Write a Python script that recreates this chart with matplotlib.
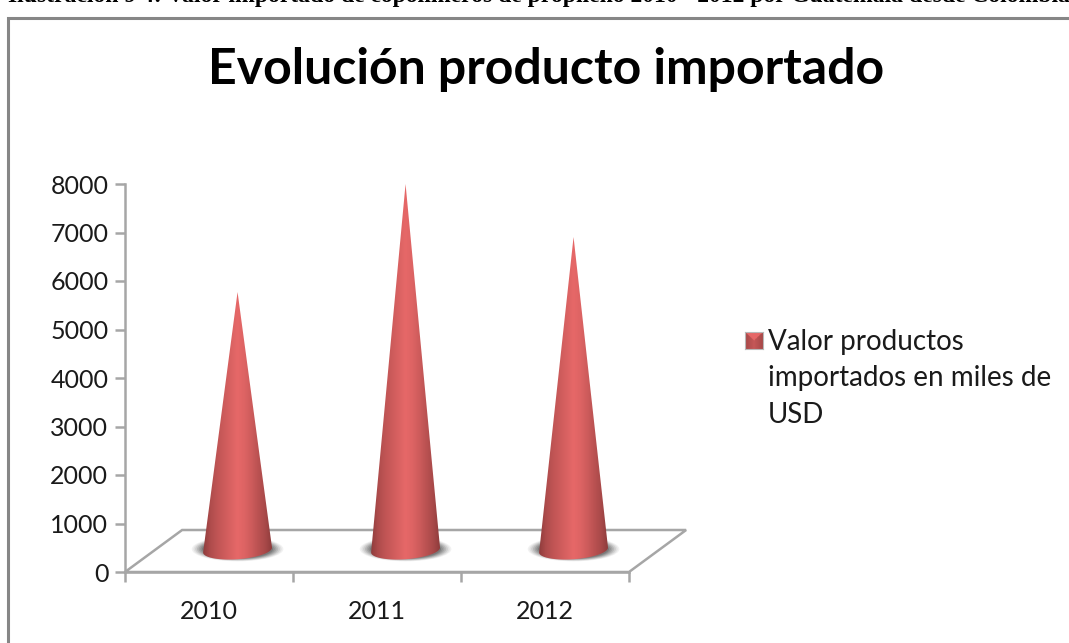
import numpy as np
import matplotlib
matplotlib.use('Agg')
import matplotlib.pyplot as plt
from matplotlib.patches import Polygon, Rectangle, Ellipse

# Data
years = ['2010', '2011', '2012']
valores = [5320, 7547, 6454]
y_ticks = [0, 1000, 2000, 3000, 4000, 5000, 6000, 7000, 8000]

caption = 'Ilustración 9 4: Valor importado de copolímeros de propileno 2010 - 2012 por Guatemala desde Colombia'
titulo = 'Evolución producto importado'
leyenda = 'Valor productos\nimportados en miles de\nUSD'

W, H = 1069, 643
GRIS = '#a6a6a6'
plt.rcParams['font.family'] = ['Lato', 'DejaVu Sans']

fig = plt.figure(figsize=(W / 100, H / 100), dpi=100)

# chart frame, cut by the image on the right and the bottom
fig.add_artist(Rectangle((8 / W, -0.02), 1.1, 1.02 - 18 / H, transform=fig.transFigure,
                         fc='white', ec='#868686', lw=2.2, zorder=-1))
fig.text(8 / W, 1 - 2 / H, caption, family='Liberation Serif', weight='bold', fontsize=17,
         va='baseline', ha='left', color='black')
fig.text(546 / W, 1 - 84 / H, titulo, weight='bold', fontsize=36, ha='center', va='baseline', color='black')

# plot area in pixels: x 125-629, y 184-572
ax = fig.add_axes([125 / W, 1 - 572 / H, 504 / W, 388 / H])
ax.patch.set_alpha(0)
ax.set_xlim(0, 3)
ax.set_ylim(0, 8000)

# depth of the 3D floor in data units
dx, dy = 0.34, 866
ax.add_patch(Polygon([(0, 0), (dx, dy), (3 + dx, dy), (3, 0)], closed=True, fc='white', ec=GRIS,
                     lw=1.8, clip_on=False, zorder=1))

half_w = 0.205
ell_h = 190
tilt = 50
t = np.linspace(0, np.pi, 60)

grad = [0.0, 0.35, 0.55, 0.7, 0.85, 1.0, 0.9, 0.72, 0.5, 0.3, 0.0]
grad = np.interp(np.linspace(0, 10, 200), np.arange(11), grad)[None, :]
cmap = matplotlib.colors.LinearSegmentedColormap.from_list('cono', ['#8f3c3c', '#e66868'])

for i, v in enumerate(valores):
    cx = i + 0.5 + dx / 2
    cy = dy / 2 + 20

    # soft grey shadow under the cone
    for k, a in zip(np.linspace(1.33, 1.03, 7), [0.07, 0.09, 0.12, 0.15, 0.18, 0.22, 0.28]):
        ax.add_patch(Ellipse((cx, cy + 20), 2 * half_w * k, 2 * ell_h * k, angle=0, fc='#454545', ec='none',
                             alpha=a, zorder=2, clip_on=False))

    xs = np.concatenate([[cx], cx - half_w * np.cos(t), [cx]])
    ys = np.concatenate([[cy + v], cy - ell_h * np.sin(t) - tilt * np.cos(t), [cy + v]])
    cono = Polygon(np.column_stack([xs, ys]), closed=True, fc='none', ec='none', transform=ax.transData)
    ax.add_patch(cono)
    im = ax.imshow(grad, cmap=cmap, aspect='auto', extent=(cx - half_w, cx + half_w, cy - ell_h - tilt, cy + v),
                   zorder=3, interpolation='bilinear')
    im.set_clip_path(cono)

ax.set_xlim(0, 3)
ax.set_ylim(0, 8000)

for s in ['top', 'right']:
    ax.spines[s].set_visible(False)
for s in ['left', 'bottom']:
    ax.spines[s].set_color(GRIS)
    ax.spines[s].set_linewidth(1.8)
ax.set_yticks(y_ticks)
ax.set_xticks([0, 1, 2, 3])
ax.set_xticklabels([])
ax.set_xticks([0.5, 1.5, 2.5], labels=years, minor=True)
ax.tick_params(axis='both', which='major', color=GRIS, width=1.8, length=7, labelsize=18, labelcolor='#1a1a1a')
ax.tick_params(axis='x', which='minor', length=0, pad=20, labelsize=18, labelcolor='#1a1a1a')
ax.tick_params(axis='y', pad=5)

# legend key, bevelled square
key = fig.add_axes([745 / W, 1 - 349 / H, 18 / W, 17 / H])
u, w = np.meshgrid(np.linspace(-1, 1, 40), np.linspace(1, -1, 40))
bisel = np.where(w > np.abs(u), 1.0, 0.62 - 0.35 * np.abs(u))
key.imshow(bisel, cmap=cmap, aspect='auto', extent=(0, 1, 0, 1), vmin=0, vmax=1)
key.set_xticks([])
key.set_yticks([])
for s in key.spines.values():
    s.set_color('#b8b8b8')
fig.text(768 / W, 1 - 378 / H, leyenda, fontsize=20, va='center', ha='left', color='#1a1a1a', linespacing=1.5)

fig.savefig('out.png', dpi=100)
